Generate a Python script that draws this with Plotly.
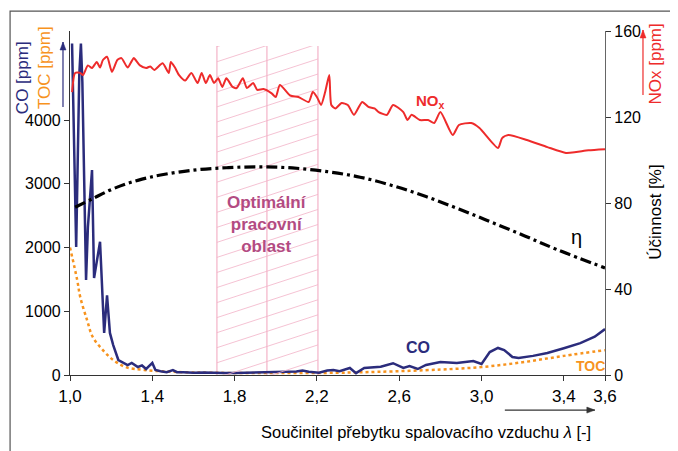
import plotly.graph_objects as go

# ---------------- data ----------------
co_lambda = [1.01, 1.02, 1.03, 1.045, 1.053, 1.06, 1.078, 1.087, 1.107, 1.117, 1.13, 1.146, 1.166, 1.18,
             1.194, 1.21, 1.235, 1.26, 1.28, 1.30, 1.33, 1.35, 1.37, 1.40, 1.415, 1.44, 1.47, 1.50, 1.52,
             1.55, 1.60, 1.65, 1.70, 1.75, 1.80, 1.85, 1.90, 1.95, 2.00, 2.06, 2.10, 2.13, 2.16, 2.21,
             2.25, 2.28, 2.31, 2.36, 2.39, 2.43, 2.51, 2.57, 2.62, 2.65, 2.69, 2.73, 2.80, 2.88, 2.96,
             3.00, 3.04, 3.08, 3.11, 3.15, 3.18, 3.25, 3.32, 3.40, 3.48, 3.55, 3.60]
co_ppm = [5200, 3600, 2010, 4700, 5200, 4600, 1490, 2320, 3215, 1520, 1755, 2090, 660, 1250,
          660, 470, 235, 190, 157, 190, 125, 150, 95, 190, 78, 60, 45, 78, 45,
          45, 35, 40, 30, 30, 30, 35, 30, 35, 40, 45, 55, 70, 50, 36,
          70, 78, 60, 110, 30, 110, 130, 185, 110, 140, 94, 157, 204, 188, 220,
          173, 360, 424, 392, 283, 267, 300, 345, 420, 500, 600, 720]

toc_lambda = [1.0, 1.035, 1.05, 1.083, 1.11, 1.16, 1.21, 1.27, 1.36, 1.5, 1.7, 2.0, 2.3, 2.5, 2.8,
              3.0, 3.2, 3.4, 3.6]
toc_ppm = [2000, 1490, 1220, 860, 600, 390, 235, 125, 80, 50, 35, 30, 35, 50, 85,
           125, 200, 300, 390]

nox_lambda = [1.01, 1.025, 1.05, 1.063, 1.087, 1.107, 1.13, 1.146, 1.16, 1.18, 1.204, 1.23, 1.25, 1.28,
              1.30, 1.31, 1.34, 1.37, 1.39, 1.41, 1.45, 1.48, 1.49, 1.51, 1.53, 1.56, 1.59, 1.62,
              1.64, 1.66, 1.68, 1.70, 1.72, 1.74, 1.76, 1.79, 1.81, 1.84, 1.86, 1.89, 1.91, 1.94,
              1.98, 2.0, 2.02, 2.07, 2.11, 2.16, 2.18, 2.20, 2.22, 2.24, 2.26, 2.27, 2.29, 2.32,
              2.35, 2.38, 2.42, 2.45, 2.48, 2.5, 2.54, 2.57, 2.62, 2.64, 2.66, 2.70, 2.74, 2.77,
              2.80, 2.86, 2.89, 2.95, 2.99, 3.08, 3.10, 3.13, 3.22, 3.32, 3.41, 3.46, 3.52, 3.60]
nox_ppm = [131.6, 140.5, 140.5, 139.5, 144, 142.8, 145.6, 143, 146.5, 148, 141, 146.5, 147.4, 143,
           146, 147.4, 144, 142.8, 143.5, 141.9, 145, 140.5, 145.6, 143, 139.5, 137, 140.5, 135.8,
           140.5, 135.8, 139.5, 135.8, 138, 134, 138, 134, 133.5, 138, 133.5, 135.8, 132.6, 133,
           131, 129.3, 134.9, 130, 129.3, 127, 131.6, 129.3, 125.6, 131.6, 139.5, 125.6, 124, 126.5,
           125.6, 121, 127, 124.7, 124, 122.3, 121, 125.6, 122.3, 118.6, 121, 118.6, 118.6, 117.2,
           122.3, 111.6, 116.3, 117.2, 114.9, 105.6, 110.2, 111.6, 109.3, 106, 103.3, 103.7, 104.5, 105]

eta_lambda = [1.025, 1.11, 1.19, 1.27, 1.35, 1.44, 1.60, 1.76, 1.92, 2.08, 2.25, 2.41, 2.57, 2.73,
              2.89, 3.05, 3.21, 3.37, 3.60]
eta_pct = [78, 82, 85.8, 88.8, 91.1, 93, 95.3, 96.4, 96.8, 96.3, 94.6, 92, 88, 83,
           77.2, 71, 64.7, 58.2, 49.8]

opt_region = {"min": 1.714, "opt": 1.957, "max": 2.205}

x_tickvals = [1.0, 1.4, 1.8, 2.2, 2.6, 3.0, 3.4, 3.6]
x_ticktext = ["1,0", "1,4", "1,8", "2,2", "2,6", "3,0", "3,4", "3,6"]
y_tickvals = [0, 1000, 2000, 3000, 4000]
y2_tickvals = [0, 40, 80, 120, 160]

# ---------------- styles ----------------
FONT = "Liberation Sans, Arial, sans-serif"
NAVY = "#2b2c7c"
RED = "#ee2b2b"
ORANGE = "#f7931e"
PINK = "#f3b3c8"
MAG = "#b34b82"

Y_MAX = 5396
Y2_MAX = 160
REGION_TOP = 153

fig = go.Figure()

# hatched optimum region (decorative hatch derived from region bounds)
hx, hy = [], []
rise = 15.3
step = 7.0
b = -rise
while b < REGION_TOP:
    hx += [opt_region["min"], opt_region["max"], None]
    hy += [b, b + rise, None]
    b += step
fig.add_trace(go.Scatter(x=hx, y=hy, yaxis="y2", mode="lines",
                         line=dict(color=PINK, width=0.8), hoverinfo="skip", showlegend=False))
for k in ["min", "opt", "max"]:
    fig.add_shape(type="line", xref="x", yref="y2", x0=opt_region[k], x1=opt_region[k],
                  y0=0, y1=REGION_TOP, line=dict(color=PINK, width=1.2), layer="below")
fig.add_shape(type="rect", xref="x", yref="y2", x0=opt_region["min"] - 0.005, x1=opt_region["max"] + 0.005,
              y0=REGION_TOP, y1=Y2_MAX, fillcolor="white", line=dict(width=0), layer="above")

fig.add_trace(go.Scatter(x=toc_lambda, y=toc_ppm, mode="lines",
                         line=dict(color=ORANGE, width=2.5, dash="dot", shape="spline"), showlegend=False))
fig.add_trace(go.Scatter(x=co_lambda, y=co_ppm, mode="lines", line=dict(color=NAVY, width=2.5),
                         showlegend=False))
fig.add_trace(go.Scatter(x=nox_lambda, y=nox_ppm, yaxis="y2", mode="lines",
                         line=dict(color=RED, width=2, shape="spline", smoothing=0.6), showlegend=False))
fig.add_trace(go.Scatter(x=eta_lambda, y=eta_pct, yaxis="y2", mode="lines",
                         line=dict(color="black", width=3.2, dash="11px,4px,3px,4px", shape="spline"),
                         showlegend=False))

ann = []
def txt(x, y, s, color="black", size=16, xref="x", yref="y2", angle=0, bold=False, xanchor="center", yanchor="middle"):
    ann.append(dict(x=x, y=y, xref=xref, yref=yref, text=("<b>%s</b>" % s) if bold else s, showarrow=False,
                    textangle=angle, xanchor=xanchor, yanchor=yanchor,
                    font=dict(family=FONT, size=size, color=color)))

txt(opt_region["opt"], 70, "Optimální<br>pracovní<br>oblast", color=MAG, size=17, bold=True)
txt(2.69, 13, "CO", color=NAVY, size=16, bold=True)
txt(3.53, 4, "TOC", color=ORANGE, size=14, bold=True)
txt(2.75, 127, "NO<sub>x</sub>", color=RED, size=15, bold=True)
txt(3.46, 64, "η", color="black", size=20)
txt(opt_region["min"] - 0.005, -1.5, "min", size=10, xanchor="right", yanchor="top")
txt(opt_region["opt"] + 0.01, -1.5, "opt", size=10, xanchor="center", yanchor="top")
txt(opt_region["max"] - 0.005, -1.5, "max", size=10, xanchor="right", yanchor="top")

# axis titles
txt(-0.0897, 0.863, "CO [ppm]", color=NAVY, size=17, xref="paper", yref="paper", angle=-90)
txt(-0.0486, 0.895, "TOC [ppm]", color=ORANGE, size=17, xref="paper", yref="paper", angle=-90)
txt(1.095, 0.905, "NOx [ppm]", color=RED, size=17, xref="paper", yref="paper", angle=-90)
txt(1.095, 0.474, "Účinnost [%]", color="black", size=17, xref="paper", yref="paper", angle=-90)
txt(0.665, -0.165, "Součinitel přebytku spalovacího vzduchu <i>λ</i> [-]", size=16.5, xref="paper", yref="paper")

# arrows drawn as shapes (line + head), anchored in paper coords with pixel offsets
def arrow(xa, ya, dx, dy, color):
    fig.add_shape(type="line", xref="paper", yref="paper", xsizemode="pixel", ysizemode="pixel",
                  xanchor=xa, yanchor=ya, x0=0, y0=0, x1=dx, y1=-dy, line=dict(color=color, width=1.2))
    if dx == 0:
        path = "M0,0 L-3,-8 L3,-8 Z"
    else:
        path = "M0,0 L-8,3 L-8,-3 Z"
    fig.add_shape(type="path", xref="paper", yref="paper", xsizemode="pixel", ysizemode="pixel",
                  xanchor=xa, yanchor=ya, path=path, fillcolor=color, line=dict(color=color, width=0.5))

arrow(-0.0131, 0.968, 0, 65, NAVY)
arrow(1.071, 1.003, 0, 65, RED)
arrow(0.981, -0.102, -90, 0, "#333")

# frame
fig.add_shape(type="rect", xref="paper", yref="paper", x0=-0.112, x1=1.25, y0=-0.4, y1=1.058,
              line=dict(color="#555", width=1.2))

fig.update_layout(
    width=670, height=443,
    margin=dict(l=62, r=73, t=23, b=76),
    paper_bgcolor="white", plot_bgcolor="white",
    font=dict(family=FONT, size=16, color="black"),
    annotations=ann,
    xaxis=dict(range=[1.0, 3.6], tickvals=x_tickvals, ticktext=x_ticktext, showgrid=False, zeroline=False,
               showline=True, linecolor="#333", linewidth=1.2, ticks="outside", ticklen=5, tickcolor="#333",
               tickfont=dict(size=17)),
    yaxis=dict(range=[0, Y_MAX], tickvals=y_tickvals, showgrid=False, zeroline=False, showline=True,
               linecolor="#333", linewidth=1.2, ticks="outside", ticklen=5, tickcolor="#333",
               tickfont=dict(size=16)),
    yaxis2=dict(range=[0, Y2_MAX], tickvals=y2_tickvals, overlaying="y", side="right", showgrid=False,
                zeroline=False, showline=True, linecolor="#666", linewidth=1.2, ticks="outside", ticklen=5,
                tickcolor="#333", tickfont=dict(size=16)),
)

fig.write_html("out.html")
